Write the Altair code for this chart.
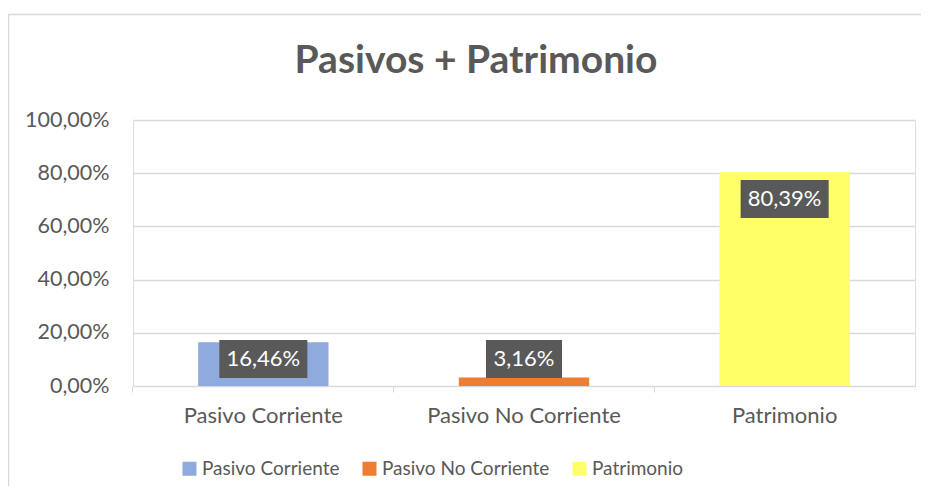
import altair as alt
import pandas as pd

categories = ["Pasivo Corriente", "Pasivo No Corriente", "Patrimonio"]
values = [16.46, 3.16, 80.39]
colors = ["#8FAADC", "#ED7D31", "#FFFF66"]
y_ticks = [0, 20, 40, 60, 80, 100]
title_text = "Pasivos + Patrimonio"

df = pd.DataFrame({"cat": categories, "val": values})
df["txt"] = [f"{v:.2f}".replace(".", ",") + "%" for v in values]
df["mid"] = [max(v - 10.1, 10.15) for v in values]
df["lo"] = df["mid"] - 7.14
df["hi"] = df["mid"] + 7.14
df["boxw"] = [12 * len(t) + 16 for t in df["txt"]]

FONT = "Lato"
GRAY = "#595959"

xscale = alt.Scale(domain=categories, paddingInner=0.5, paddingOuter=0.25)
yscale = alt.Scale(domain=[0, 100])

base = alt.Chart(df)

bars = base.mark_bar().encode(
    x=alt.X("cat:N", scale=xscale, sort=categories,
            axis=alt.Axis(title=None, labelAngle=0, labelFont=FONT, labelFontSize=22,
                          labelColor=GRAY, bandPosition=-0.5, ticks=True, tickSize=6,
                          tickColor="#D9D9D9", domainColor="#D9D9D9", labelPadding=13,
                          labelLimit=400, grid=False)),
    y=alt.Y("val:Q", scale=yscale,
            axis=alt.Axis(title=None, values=y_ticks, domain=False, ticks=False,
                          labelFont=FONT, labelFontSize=21.5, labelColor=GRAY,
                          labelPadding=24, gridColor="#D9D9D9", gridWidth=1.3,
                          labelExpr="replace(format(datum.value, '.2f'), '.', ',') + '%'")),
    color=alt.Color("cat:N", sort=categories,
                    scale=alt.Scale(domain=categories, range=colors),
                    legend=alt.Legend(title=None, orient="none", direction="horizontal",
                                      legendX=47, legendY=339, symbolType="square",
                                      symbolSize=196, symbolStrokeWidth=0,
                                      labelFont=FONT, labelFontSize=19, labelColor=GRAY,
                                      labelLimit=400, columnPadding=20, labelOffset=3,
                                      padding=0)),
)

boxes = base.mark_bar(color=GRAY).encode(
    x=alt.X("cat:N", scale=xscale, sort=categories),
    y=alt.Y("lo:Q", scale=yscale),
    y2="hi:Q",
    size=alt.Size("boxw:Q", scale=None),
)

labels = base.mark_text(color="white", font=FONT, fontSize=22, baseline="middle").encode(
    x=alt.X("cat:N", scale=xscale, sort=categories),
    y=alt.Y("mid:Q", scale=yscale),
    text="txt:N",
)

border = alt.Chart(pd.DataFrame({"a": [0]})).mark_rect(
    fillOpacity=0, stroke="#D9D9D9", strokeWidth=1.5
).encode(
    x=alt.value(-124.5), x2=alt.value(810), y=alt.value(-105.5), y2=alt.value(420)
)

title = alt.Chart(pd.DataFrame({"t": [title_text]})).mark_text(
    font=FONT, fontSize=39, fontWeight="bold", color=GRAY, align="center",
    baseline="alphabetic"
).encode(
    x=alt.value(343), y=alt.value(-47), text="t:N"
)

chart = alt.layer(border, bars, boxes, labels, title).properties(
    width=782, height=266,
    autosize=alt.AutoSizeParams(type="none"),
    padding={"left": 125, "top": 112, "right": 6, "bottom": 100},
).configure_view(stroke=None).configure(background="white")

chart.save("out.html", embed_options={"renderer": "svg", "actions": False})
